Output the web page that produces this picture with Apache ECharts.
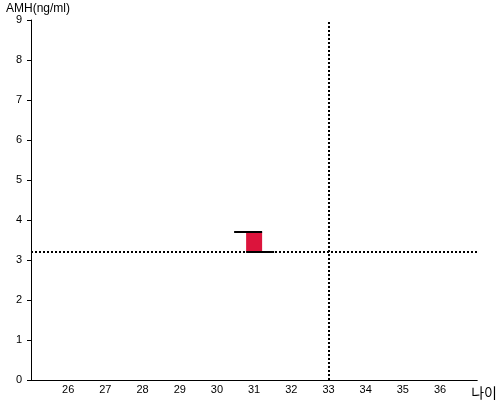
<!DOCTYPE html>
<html><head><meta charset="utf-8">
<script src="https://cdn.jsdelivr.net/npm/echarts@6/dist/echarts.min.js"></script>
<style>html,body{margin:0;padding:0;background:#fff}#c{width:500px;height:400px}</style>
</head><body><div id="c"></div>
<script>
const xTickLabels = [26,27,28,29,30,31,32,33,34,35,36];
const yTickLabels = [0,1,2,3,4,5,6,7,8,9];
const boxAge = [31];
const boxLow = [3.2];
const boxHigh = [3.7];
const refAge = 33;
const refAMH = 3.2;

const chart = echarts.init(document.getElementById('c'), null, {renderer:'canvas'});
const font = '"Liberation Sans", Arial, sans-serif';
chart.setOption({
  animation:false,
  backgroundColor:'#fff',
  grid:{left:31,right:20,top:20,bottom:20},
  xAxis:{
    type:'value', min:25, max:37, interval:1,
    name:'나이', nameLocation:'end', nameGap:0,
    nameTextStyle:{fontFamily:'"Noto Sans CJK KR", sans-serif', fontSize:14, color:'#000', align:'left', verticalAlign:'top', padding:[6,0,0,-6]},
    axisLine:{lineStyle:{color:'#000',width:1}},
    axisTick:{show:false},
    splitLine:{show:false},
    axisLabel:{color:'#000', fontFamily:font, fontSize:11, margin:4,
      formatter:v=> xTickLabels.includes(v) ? String(v) : ''}
  },
  yAxis:{
    type:'value', min:0, max:9, interval:1,
    name:'AMH(ng/ml)', nameLocation:'end', nameGap:4,
    nameTextStyle:{fontFamily:font, fontSize:12, color:'#000', align:'left', padding:[0,0,0,-25]},
    axisLine:{show:true, lineStyle:{color:'#000',width:1}},
    axisTick:{show:true, length:4, lineStyle:{color:'#000'}},
    splitLine:{show:false},
    axisLabel:{color:'#000', fontFamily:font, fontSize:11, margin:9,
      formatter:v=> yTickLabels.includes(v) ? String(v) : ''}
  },
  series:[
    {
      type:'custom',
      data: boxAge.map((a,i)=>[a, boxLow[i], boxHigh[i]]),
      renderItem:(params, api)=>{
        const lo = api.coord([api.value(0), api.value(1)]);
        const hi = api.coord([api.value(0), api.value(2)]);
        const w = 16, ext = 12;
        const xl = lo[0]-w/2, xr = lo[0]+w/2;
        return {type:'group', children:[
          {type:'rect', shape:{x:xl, y:hi[1], width:w, height:lo[1]-hi[1]}, style:{fill:'#DC143C'}},
          {type:'line', shape:{x1:xl-ext, y1:hi[1], x2:xr, y2:hi[1]}, style:{stroke:'#000', lineWidth:2}},
          {type:'line', shape:{x1:xl, y1:lo[1], x2:xr+ext, y2:lo[1]}, style:{stroke:'#000', lineWidth:2}}
        ]};
      },
      z:5
    },
    {
      type:'line', data:[], z:3,
      markLine:{
        silent:true, symbol:['none','none'], label:{show:false},
        lineStyle:{color:'#000', width:2, type:[2,2]},
        data:[{xAxis:refAge},{yAxis:refAMH}]
      }
    }
  ]
});
</script></body></html>
